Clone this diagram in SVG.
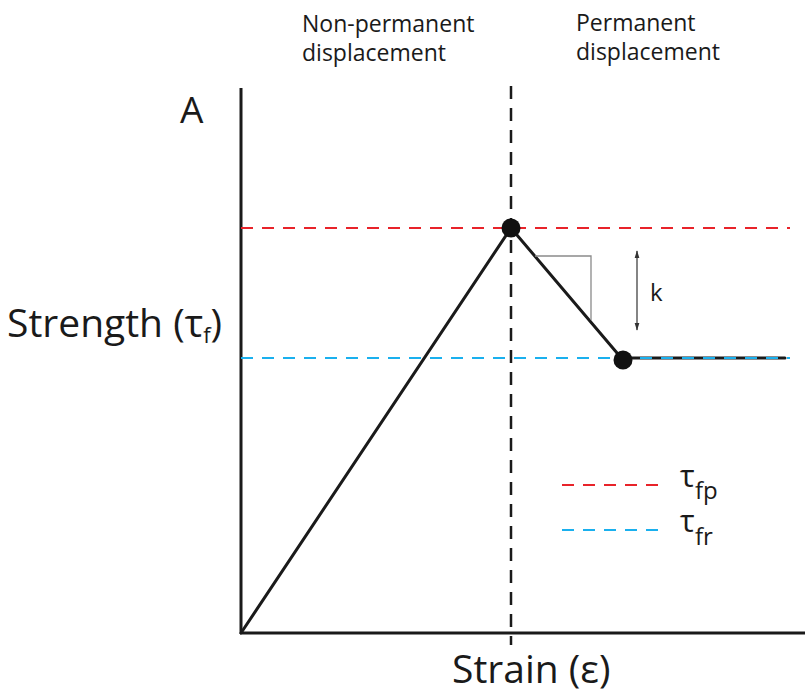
<svg xmlns="http://www.w3.org/2000/svg" width="805" height="693" viewBox="0 0 805 693">
<style>
text{font-family:"Open Sans","Liberation Sans",sans-serif;fill:#1a1a1a}
.ax{stroke:#1a1a1a;stroke-width:3;fill:none}
.crv{stroke:#1a1a1a;stroke-width:3;fill:none;stroke-linecap:round}
.red{stroke:#e8232a;stroke-width:2;stroke-dasharray:12,9;fill:none}
.blue{stroke:#1ab0ee;stroke-width:2;stroke-dasharray:12,9;fill:none}
.vd{stroke:#1a1a1a;stroke-width:2.5;stroke-dasharray:13,9;fill:none}
.gray{stroke:#8a8a8a;stroke-width:1.3;fill:none}
.lbl{font-size:23px}
.big{font-size:39px}
</style>
<defs>
<marker id="ah" viewBox="0 0 10 10" refX="9" refY="5" markerWidth="8" markerHeight="8" orient="auto-start-reverse" markerUnits="userSpaceOnUse"><path d="M0,2 L10,5 L0,8 z" fill="#333"/></marker>
</defs>
<g id="axes">
<line class="ax" x1="241" y1="88" x2="241" y2="634"/>
<line class="ax" x1="240" y1="633" x2="805" y2="633"/>
</g>
<g id="guides">
<line class="vd" x1="511" y1="86" x2="511" y2="645"/>
<line class="red" x1="241" y1="228" x2="790" y2="228"/>
<line class="crv" x1="623" y1="358" x2="785" y2="358"/>
<line class="blue" x1="241" y1="358" x2="790" y2="358"/>
</g>
<g id="connectors">
<polyline class="crv" points="241,633 511,228 623,360"/>
<polyline class="gray" points="535,256 591,256 591,320"/>
<line stroke="#333" stroke-width="1.2" x1="637" y1="251" x2="637" y2="330" marker-start="url(#ah)" marker-end="url(#ah)"/>
</g>
<g id="peak"><circle cx="511" cy="228" r="9.5" fill="#111"/></g>
<g id="residual"><circle cx="623" cy="360" r="9.5" fill="#111"/></g>
<g id="labels">
<text class="lbl" x="302" y="32">Non-permanent</text>
<text class="lbl" x="302" y="61">displacement</text>
<text class="lbl" x="576" y="31">Permanent</text>
<text class="lbl" x="576" y="60">displacement</text>
<text x="180" y="123" font-size="37">A</text>
<text class="big" x="7" y="337">Strength (τ<tspan font-size="22" dy="6">f</tspan><tspan dy="-6">)</tspan></text>
<text class="big" x="452" y="683" font-size="38">Strain (ε)</text>
<text x="650" y="301" font-size="24">k</text>
</g>
<g id="legend">
<line class="red" x1="562" y1="485" x2="660" y2="485"/>
<line class="blue" x1="562" y1="530" x2="660" y2="530"/>
<text x="680" y="487" font-size="31">τ</text><text x="695" y="499" font-size="24">fp</text>
<text x="680" y="532" font-size="31">τ</text><text x="695" y="545" font-size="24">fr</text>
</g>
</svg>
